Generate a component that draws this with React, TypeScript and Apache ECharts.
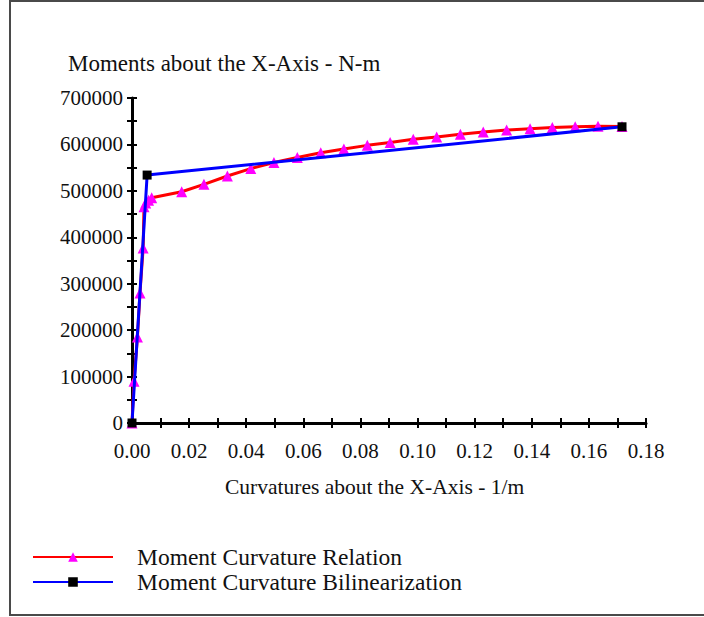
import React, { useEffect, useRef } from "react";
import * as echarts from "echarts";

const FONT = "'Liberation Serif', 'Times New Roman', serif";

// Moment Curvature Relation (red line, magenta triangles)
const relationCurvature = [
  0, 0.0007, 0.0019, 0.0028, 0.0039, 0.0042, 0.0048, 0.0058, 0.0069, 0.0174,
  0.0252, 0.0334, 0.0416, 0.0497, 0.0579, 0.0661, 0.0742, 0.0824, 0.0904,
  0.0985, 0.1067, 0.115, 0.123, 0.1312, 0.1394, 0.1472, 0.1552, 0.1632, 0.1716,
];
const relationMoment = [
  0, 90000, 185000, 280000, 377000, 466000, 474000, 480000, 485000, 498000,
  514000, 532000, 548000, 561000, 572000, 582000, 590000, 598000, 604000,
  611000, 616000, 622000, 627000, 631000, 634000, 636500, 638000, 639000, 638500,
];

// Moment Curvature Bilinearization (blue line, black squares)
const bilinearCurvature = [0, 0.0053, 0.1716];
const bilinearMoment = [0, 534000, 638000];

const seriesNames = ["Moment Curvature Relation", "Moment Curvature Bilinearization"];
const yAxisTitle = "Moments about the X-Axis - N-m";
const xAxisTitle = "Curvatures about the X-Axis - 1/m";

const X_MIN = 0;
const X_MAX = 0.18;
const X_STEP = 0.01;
const Y_MIN = 0;
const Y_MAX = 700000;
const Y_STEP = 50000;

export default function App() {
  const ref = useRef<HTMLDivElement>(null);

  useEffect(() => {
    if (!ref.current) return;
    const chart = echarts.init(ref.current, undefined, { renderer: "svg" });

    const labelStyle = { color: "#111", fontSize: 21, fontFamily: FONT };

    const xBase = {
      type: "value",
      min: X_MIN,
      max: X_MAX,
      interval: X_STEP,
      position: "bottom",
      splitLine: { show: false },
    };
    const yBase = {
      type: "value",
      min: Y_MIN,
      max: Y_MAX,
      interval: Y_STEP,
      position: "left",
      splitLine: { show: false },
    };

    const option: any = {
      animation: false,
      backgroundColor: "#ffffff",
      textStyle: { fontFamily: FONT },
      grid: {
        left: 132,
        top: 98,
        width: 514,
        height: 325,
        containLabel: false,
        outerBoundsMode: "none",
      },
      title: [
        {
          text: yAxisTitle,
          left: 68,
          top: 52,
          padding: 0,
          textStyle: { ...labelStyle, fontSize: 23, fontWeight: "normal" },
        },
        {
          text: xAxisTitle,
          left: 225,
          top: 476,
          padding: 0,
          textStyle: { ...labelStyle, fontSize: 21.5, fontWeight: "normal" },
        },
      ],
      legend: {
        orient: "vertical",
        left: 32,
        top: 545,
        padding: 0,
        itemWidth: 80,
        itemHeight: 12,
        itemGap: 1,
        selectedMode: false,
        textStyle: { ...labelStyle, fontSize: 23.5, lineHeight: 20, padding: [0, 0, 0, 19] },
        data: seriesNames,
      },
      graphic: [
        {
          type: "rect",
          silent: true,
          shape: { x: 10, y: 1, width: 720, height: 614 },
          style: { fill: "none", stroke: "#4a4a4a", lineWidth: 2 },
          z: 100,
        },
      ],
      xAxis: [
        {
          ...xBase,
          axisLine: { show: true, onZero: false, lineStyle: { color: "#000", width: 3 } },
          axisTick: { show: true, inside: false, length: 5, lineStyle: { color: "#000", width: 2 } },
          axisLabel: {
            ...labelStyle,
            margin: 17,
            formatter: (v: number) =>
              Math.round(v * 100) % 2 === 0 ? v.toFixed(2) : "",
          },
        },
        {
          ...xBase,
          axisLine: { show: false, onZero: false },
          axisTick: { show: true, inside: true, length: 5, lineStyle: { color: "#000", width: 2 } },
          axisLabel: { show: false },
        },
      ],
      yAxis: [
        {
          ...yBase,
          axisLine: { show: true, onZero: false, lineStyle: { color: "#000", width: 3 } },
          axisTick: { show: true, inside: false, length: 5, lineStyle: { color: "#000", width: 2 } },
          axisLabel: {
            ...labelStyle,
            margin: 9,
            formatter: (v: number) =>
              Math.round(v / Y_STEP) % 2 === 0 ? String(Math.round(v)) : "",
          },
        },
        {
          ...yBase,
          axisLine: { show: false, onZero: false },
          axisTick: { show: true, inside: true, length: 5, lineStyle: { color: "#000", width: 2 } },
          axisLabel: { show: false },
        },
      ],
      series: [
        {
          name: seriesNames[0],
          type: "line",
          xAxisIndex: 0,
          yAxisIndex: 0,
          data: relationCurvature.map((c, i) => [c, relationMoment[i]]),
          symbol: "triangle",
          symbolSize: 11,
          showSymbol: true,
          showAllSymbol: true,
          itemStyle: { color: "#ff00ff" },
          lineStyle: { color: "#ff0000", width: 3 },
          z: 2,
        },
        {
          name: seriesNames[1],
          type: "line",
          xAxisIndex: 0,
          yAxisIndex: 0,
          data: bilinearCurvature.map((c, i) => [c, bilinearMoment[i]]),
          symbol: "rect",
          symbolSize: 9,
          showSymbol: true,
          itemStyle: { color: "#000000" },
          lineStyle: { color: "#0000ff", width: 3 },
          z: 3,
        },
      ],
    };

    chart.setOption(option);
    return () => chart.dispose();
  }, []);

  return (
    <div
      ref={ref}
      style={{ position: "absolute", left: 0, top: 0, width: 704, height: 617 }}
    />
  );
}
